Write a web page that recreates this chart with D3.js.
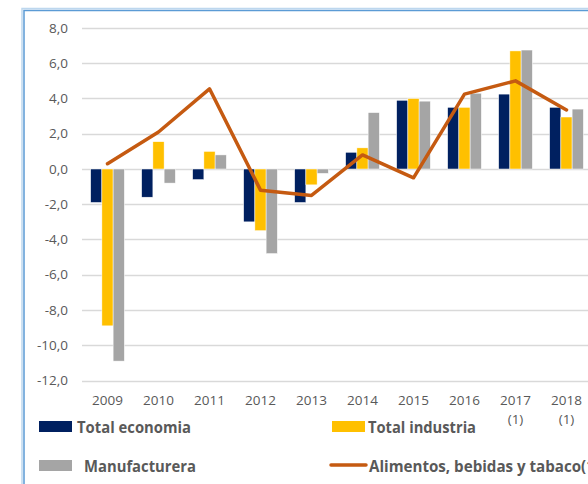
<!DOCTYPE html>
<html>
<head>
<meta charset="utf-8">
<script src="https://cdn.jsdelivr.net/npm/d3@7"></script>
<style>
  body { margin: 0; background: #fff; }
  svg { display: block; font-family: "Open Sans", "Liberation Sans", sans-serif; }
</style>
</head>
<body>
<div id="chart"></div>
<script>
// values
var years = ["2009", "2010", "2011", "2012", "2013", "2014", "2015", "2016", "2017", "2018"];
var yearNotes = ["", "", "", "", "", "", "", "", "(1)", "(1)"];
var totalEconomia = [-1.9, -1.6, -0.6, -3.0, -1.9, 0.95, 3.9, 3.5, 4.25, 3.5];
var totalIndustria = [-8.9, 1.55, 1.0, -3.5, -0.9, 1.2, 4.0, 3.5, 6.7, 2.95];
var manufacturera = [-10.9, -0.8, 0.8, -4.8, -0.25, 3.2, 3.85, 4.3, 6.75, 3.4];
var alimentos = [0.3, 2.1, 4.55, -1.2, -1.5, 0.8, -0.5, 4.25, 5.0, 3.35];
var yTicks = [8, 6, 4, 2, 0, -2, -4, -6, -8, -10, -12];

var barSeries = [
  { name: "Total economia", values: totalEconomia, color: "#002060" },
  { name: "Total industria", values: totalIndustria, color: "#FFC000" },
  { name: "Manufacturera", values: manufacturera, color: "#A5A5A5" }
];
var lineColor = "#C55A11";

var W = 588, H = 484;
var svg = d3.select("#chart").append("svg").attr("width", W).attr("height", H);

// frame (double blue line, cut off on the right)
svg.append("rect").attr("x", 22).attr("y", 8.5).attr("width", W + 20).attr("height", H + 20)
  .attr("fill", "none").attr("stroke", "#BDD7EE").attr("stroke-width", 1.5);
svg.append("rect").attr("x", 24).attr("y", 10.5).attr("width", W + 20).attr("height", H + 20)
  .attr("fill", "none").attr("stroke", "#5B9BD5").attr("stroke-width", 1.5);

var x = d3.scaleBand().domain(years).range([82, 592]).padding(0);
var x1 = d3.scaleBand().domain(d3.range(barSeries.length)).range([0, x.bandwidth()])
  .paddingInner(0).paddingOuter(0.77);
var y = d3.scaleLinear().domain([-12, 8]).range([380.5, 28]);

// gridlines
svg.append("g").selectAll("line").data(yTicks).enter().append("line")
  .attr("x1", 82).attr("x2", W)
  .attr("y1", function(d) { return Math.round(y(d)) + 0.5; })
  .attr("y2", function(d) { return Math.round(y(d)) + 0.5; })
  .attr("stroke", "#D9D9D9").attr("stroke-width", 1.5);

// y labels
var fmt = function(d) { return d3.format(".1f")(d).replace(".", ",").replace("−", "-"); };
svg.append("g").selectAll("text").data(yTicks).enter().append("text")
  .attr("x", 68).attr("y", function(d) { return y(d) + 4.5; })
  .attr("text-anchor", "end").attr("font-size", 13.5).attr("fill", "#595959")
  .text(fmt);

// bars
barSeries.forEach(function(s, si) {
  svg.append("g").selectAll("rect").data(s.values).enter().append("rect")
    .attr("x", function(d, i) { return x(years[i]) + x1(si); })
    .attr("width", x1.bandwidth())
    .attr("y", function(d) { return Math.min(y(d), y(0)); })
    .attr("height", function(d) { return Math.abs(y(d) - y(0)); })
    .attr("fill", s.color)
    .attr("stroke", "#fff").attr("stroke-width", 0.5);
});

// line
var line = d3.line()
  .x(function(d, i) { return x(years[i]) + x.bandwidth() / 2; })
  .y(function(d) { return y(d); });
svg.append("path").datum(alimentos)
  .attr("d", line).attr("fill", "none")
  .attr("stroke", lineColor).attr("stroke-width", 3.5)
  .attr("stroke-linecap", "round").attr("stroke-linejoin", "round");

// x labels
var xl = svg.append("g");
years.forEach(function(yr, i) {
  var cx = x(yr) + x.bandwidth() / 2;
  xl.append("text").attr("x", cx).attr("y", 405).attr("text-anchor", "middle")
    .attr("font-size", 13.5).attr("fill", "#595959").text(yr);
  if (yearNotes[i]) {
    xl.append("text").attr("x", cx).attr("y", 424).attr("text-anchor", "middle")
      .attr("font-size", 13.5).attr("fill", "#595959").text(yearNotes[i]);
  }
});

// legend
var leg = svg.append("g").attr("font-weight", "bold").attr("font-size", 15.5).attr("fill", "#595959");
leg.append("rect").attr("x", 39).attr("y", 421).attr("width", 33).attr("height", 11).attr("fill", "#002060");
leg.append("text").attr("x", 77).attr("y", 433).attr("textLength", 114).attr("lengthAdjust", "spacingAndGlyphs").text("Total economia");
leg.append("rect").attr("x", 332).attr("y", 421).attr("width", 33).attr("height", 11).attr("fill", "#FFC000");
leg.append("text").attr("x", 368).attr("y", 433).attr("textLength", 108).attr("lengthAdjust", "spacingAndGlyphs").text("Total industria");
leg.append("rect").attr("x", 39).attr("y", 460).attr("width", 33).attr("height", 11).attr("fill", "#A5A5A5");
leg.append("text").attr("x", 84).attr("y", 472).attr("textLength", 112).attr("lengthAdjust", "spacingAndGlyphs").text("Manufacturera");
leg.append("line").attr("x1", 331).attr("x2", 366).attr("y1", 465).attr("y2", 465)
  .attr("stroke", lineColor).attr("stroke-width", 3.5).attr("stroke-linecap", "round");
leg.append("text").attr("x", 369).attr("y", 472).attr("textLength", 231).attr("lengthAdjust", "spacingAndGlyphs").text("Alimentos, bebidas y tabaco(1)");
</script>
</body>
</html>
